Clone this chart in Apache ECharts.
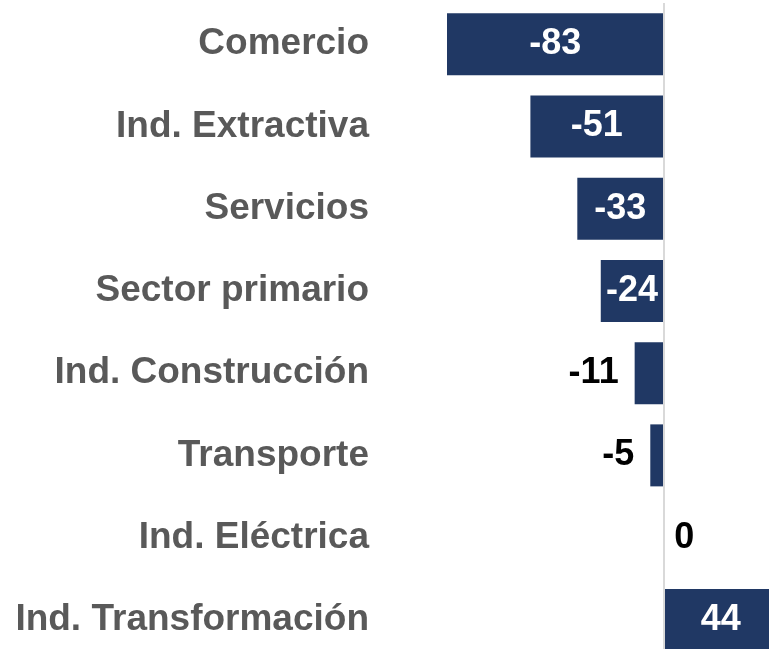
<!DOCTYPE html>
<html>
<head>
<meta charset="utf-8">
<script src="https://cdn.jsdelivr.net/npm/echarts@6/dist/echarts.min.js"></script>
<style>
  html, body { margin: 0; padding: 0; background: #fff; }
  #main { width: 769px; height: 649px; }
</style>
</head>
<body>
<div id="main"></div>
<script>
var categories = ['Comercio', 'Ind. Extractiva', 'Servicios', 'Sector primario',
  'Ind. Construcción', 'Transporte', 'Ind. Eléctrica', 'Ind. Transformación'];
var values = [-83, -51, -33, -24, -11, -5, 0, 44];

var chart = echarts.init(document.getElementById('main'));

// small bars get their label outside, big ones inside (white)
var barData = values.map(function (v) {
  var small = Math.abs(v) < 20;
  return {
    value: v,
    label: {
      position: small ? (v < 0 ? 'left' : 'right') : 'inside',
      color: small ? '#000' : '#fff',
      distance: v < 0 ? 16 : 11
    }
  };
});

chart.setOption({
  animation: false,
  grid: {
    left: 447,
    right: -9,
    top: 3,
    bottom: -12,
    containLabel: false,
    outerBoundsMode: 'none'
  },
  xAxis: {
    type: 'value',
    min: -83,
    max: 44,
    show: false,
    splitLine: { show: false }
  },
  yAxis: {
    type: 'category',
    inverse: true,
    data: categories,
    axisLine: { show: false, onZero: false },
    axisTick: { show: false },
    axisLabel: {
      margin: 78,
      color: '#595959',
      fontFamily: 'Liberation Sans, Arial, sans-serif',
      fontWeight: 'bold',
      fontSize: 37
    }
  },
  series: [{
    type: 'bar',
    data: barData,
    barWidth: 62,
    itemStyle: { color: '#203864' },
    label: {
      show: true,
      fontFamily: 'Liberation Sans, Arial, sans-serif',
      fontWeight: 'bold',
      fontSize: 36
    },
    markLine: {
      silent: true,
      symbol: 'none',
      label: { show: false },
      lineStyle: { color: '#d9d9d9', width: 2, type: 'solid' },
      data: [{ xAxis: 0 }]
    }
  }]
});
</script>
</body>
</html>
